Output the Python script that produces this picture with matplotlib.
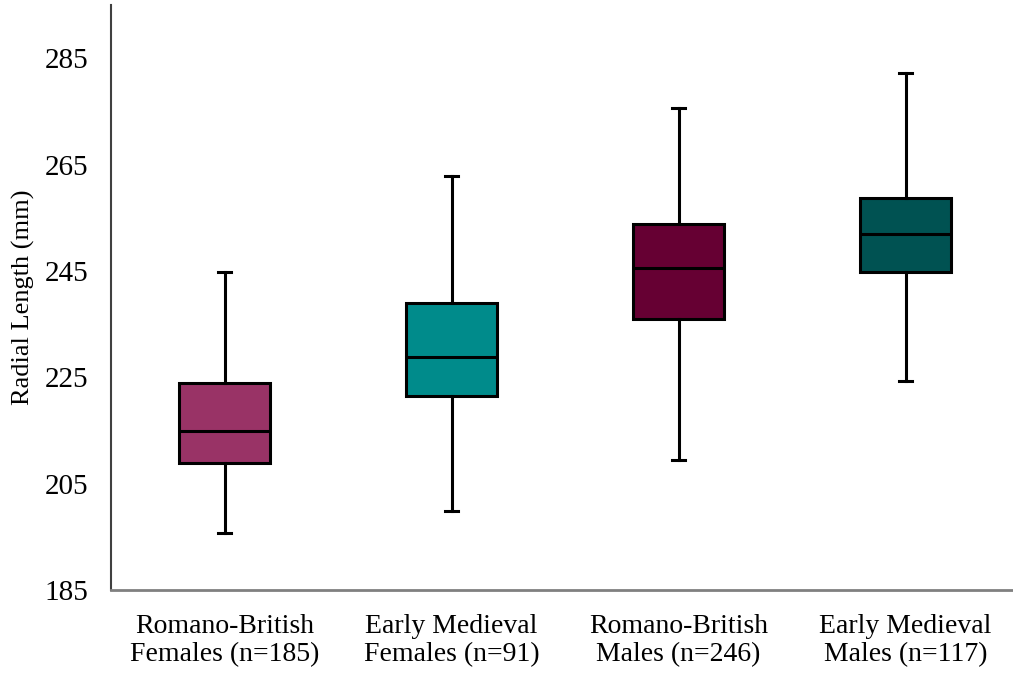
import matplotlib.pyplot as plt

plt.rcParams['font.family'] = ['Liberation Serif', 'DejaVu Serif']

# values
labels = ['Romano-British\nFemales (n=185)', 'Early Medieval\nFemales (n=91)',
          'Romano-British\nMales (n=246)', 'Early Medieval\nMales (n=117)']
whisker_low = [195.8, 199.9, 209.4, 224.3]
q1 = [208.8, 221.4, 235.9, 244.8]
median = [214.9, 228.9, 245.5, 251.9]
q3 = [223.9, 238.9, 253.9, 258.8]
whisker_high = [244.8, 262.8, 275.7, 282.2]
colors = ['#993366', '#008B8B', '#660033', '#005252']
yticks = [185, 205, 225, 245, 265, 285]

stats = []
for i in range(len(labels)):
    stats.append(dict(label=labels[i], whislo=whisker_low[i], q1=q1[i], med=median[i],
                      q3=q3[i], whishi=whisker_high[i], fliers=[]))

fig = plt.figure(figsize=(10.13, 6.75), dpi=100)
ax = fig.add_axes([111 / 1013, 1 - 590 / 675, 1 - 111 / 1013, 585 / 675])

lw = 2.2
bp = ax.bxp(stats, positions=[1, 2, 3, 4], widths=0.4, patch_artist=True,
            showfliers=False,
            boxprops=dict(linewidth=lw, edgecolor='black'),
            medianprops=dict(color='black', linewidth=lw),
            whiskerprops=dict(color='black', linewidth=lw),
            capprops=dict(color='black', linewidth=lw),
            capwidths=0.055)
for patch, c in zip(bp['boxes'], colors):
    patch.set_facecolor(c)

ax.set_xlim(0.5, 0.5 + 902 / 227)
ax.set_ylim(185, 295)
ax.set_yticks(yticks)
ax.set_ylabel('Radial Length (mm)', fontsize=19, labelpad=7)
ax.tick_params(axis='x', length=0, labelsize=20, pad=17)
ax.tick_params(axis='y', length=0, labelsize=21, pad=16)

for s in ['top', 'right']:
    ax.spines[s].set_visible(False)
ax.spines['left'].set_color('#404040')
ax.spines['bottom'].set_color('#808080')
ax.spines['left'].set_linewidth(1.5)
ax.spines['bottom'].set_linewidth(2)

fig.savefig('out.png', dpi=100)
